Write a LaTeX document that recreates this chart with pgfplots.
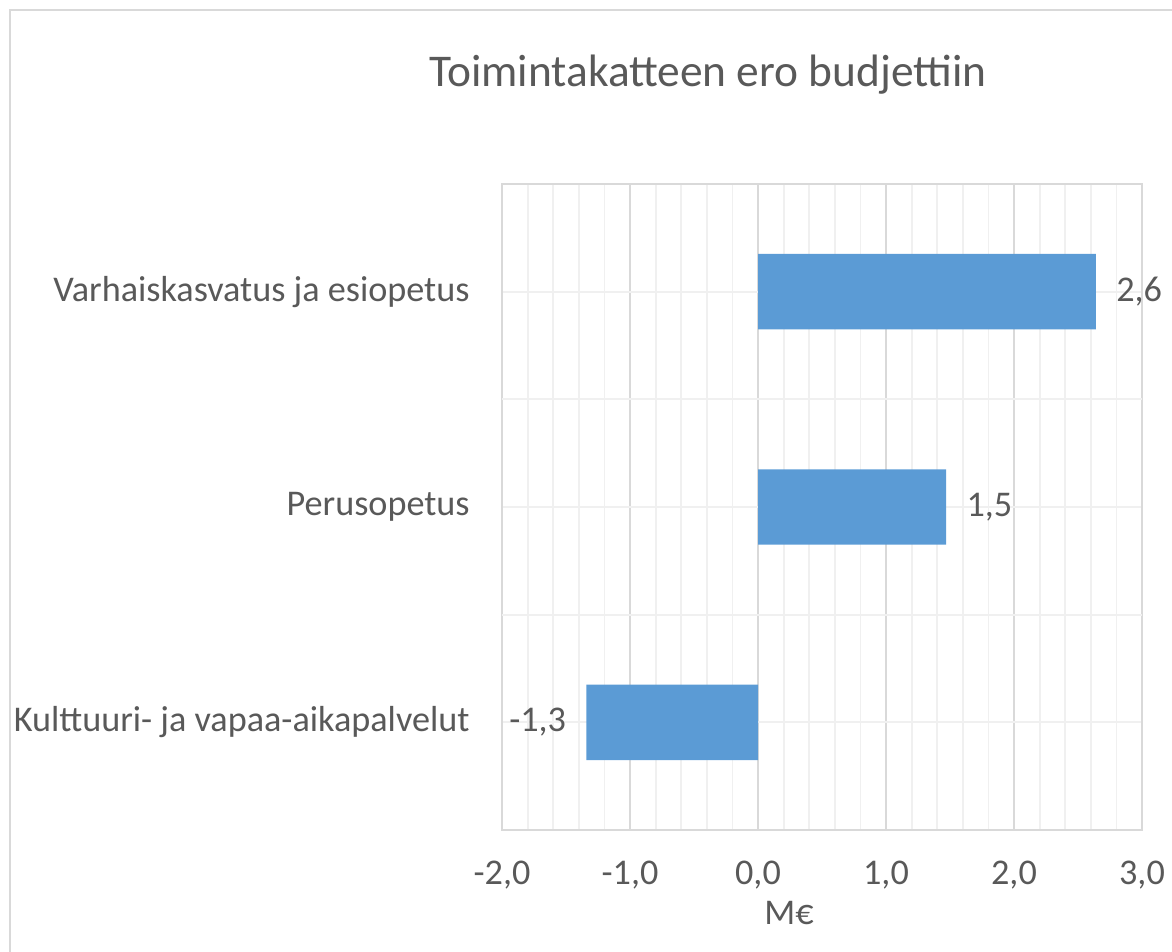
\documentclass[border=0pt]{standalone}
\usepackage{fontspec}
\setmainfont{Carlito}
\usepackage{pgfplots}
\pgfplotsset{compat=1.18}
\usepackage{pgfplotstable}
\definecolor{barblue}{HTML}{5B9BD5}
\definecolor{txt}{HTML}{595959}
\definecolor{gmaj}{HTML}{D9D9D9}
\definecolor{gmin}{HTML}{F0F0F0}
\pgfplotstableread{
y x
0 -1.34
1 1.47
2 2.64
}\datatab
\begin{document}
\begin{tikzpicture}
\path[use as bounding box] (0,0) rectangle (586pt,-476pt);
\draw[gmaj, line width=1pt] (5pt,-480pt) -- (5pt,-5pt) -- (590pt,-5pt);
\node[txt, font=\fontsize{22.7}{26}\selectfont, anchor=center] at (354pt,-37.5pt) {Toimintakatteen ero budjettiin};
\begin{axis}[
  at={(251pt,-415pt)}, anchor=south west,
  width=320pt, height=323pt, scale only axis,
  xmin=-2, xmax=3, ymin=-0.5, ymax=2.5,
  xtick={-2,-1,0,1,2,3},
  minor x tick num=4,
  ytick={0,1,2},
  yticklabels={Kulttuuri- ja vapaa-aikapalvelut, Perusopetus, Varhaiskasvatus ja esiopetus},
  extra y ticks={0.5,1.5},
  extra y tick labels={},
  extra y tick style={grid=major, major grid style={draw=gmaj, line width=0.9pt}},
  xmajorgrids, xminorgrids, ymajorgrids,
  major grid style={draw=gmaj, line width=0.9pt},
  minor grid style={draw=gmin, line width=0.9pt},
  major y grid style={draw=gmin, line width=0.9pt},
  axis line style={draw=gmaj, line width=0.9pt},
  major tick length=0pt, minor tick length=0pt,
  tick style={draw=none},
  font=\fontsize{18.1}{21}\selectfont,
  tick label style={txt, font=\fontsize{18.1}{21}\selectfont},
  xticklabel style={anchor=center, yshift=-22.5pt},
  yticklabel style={anchor=east, inner sep=0pt, xshift=-16pt},
  /pgf/number format/.cd, fixed, fixed zerofill, precision=1, use comma, assume math mode=true,
]
\addplot[xbar, fill=barblue, draw=none, bar width=0.35,
  nodes near coords,
  nodes near coords align=horizontal,
  every node near coord/.append style={txt, font=\fontsize{18.1}{21}\selectfont, inner xsep=10pt, inner ysep=0pt,
    /pgf/number format/.cd, fixed, fixed zerofill, precision=1, use comma, assume math mode=true},
] table[x=x, y=y] {\datatab};
\end{axis}
\node[txt, font=\fontsize{18.1}{21}\selectfont, anchor=center] at (394.5pt,-456.5pt) {M€};
\end{tikzpicture}
\end{document}
